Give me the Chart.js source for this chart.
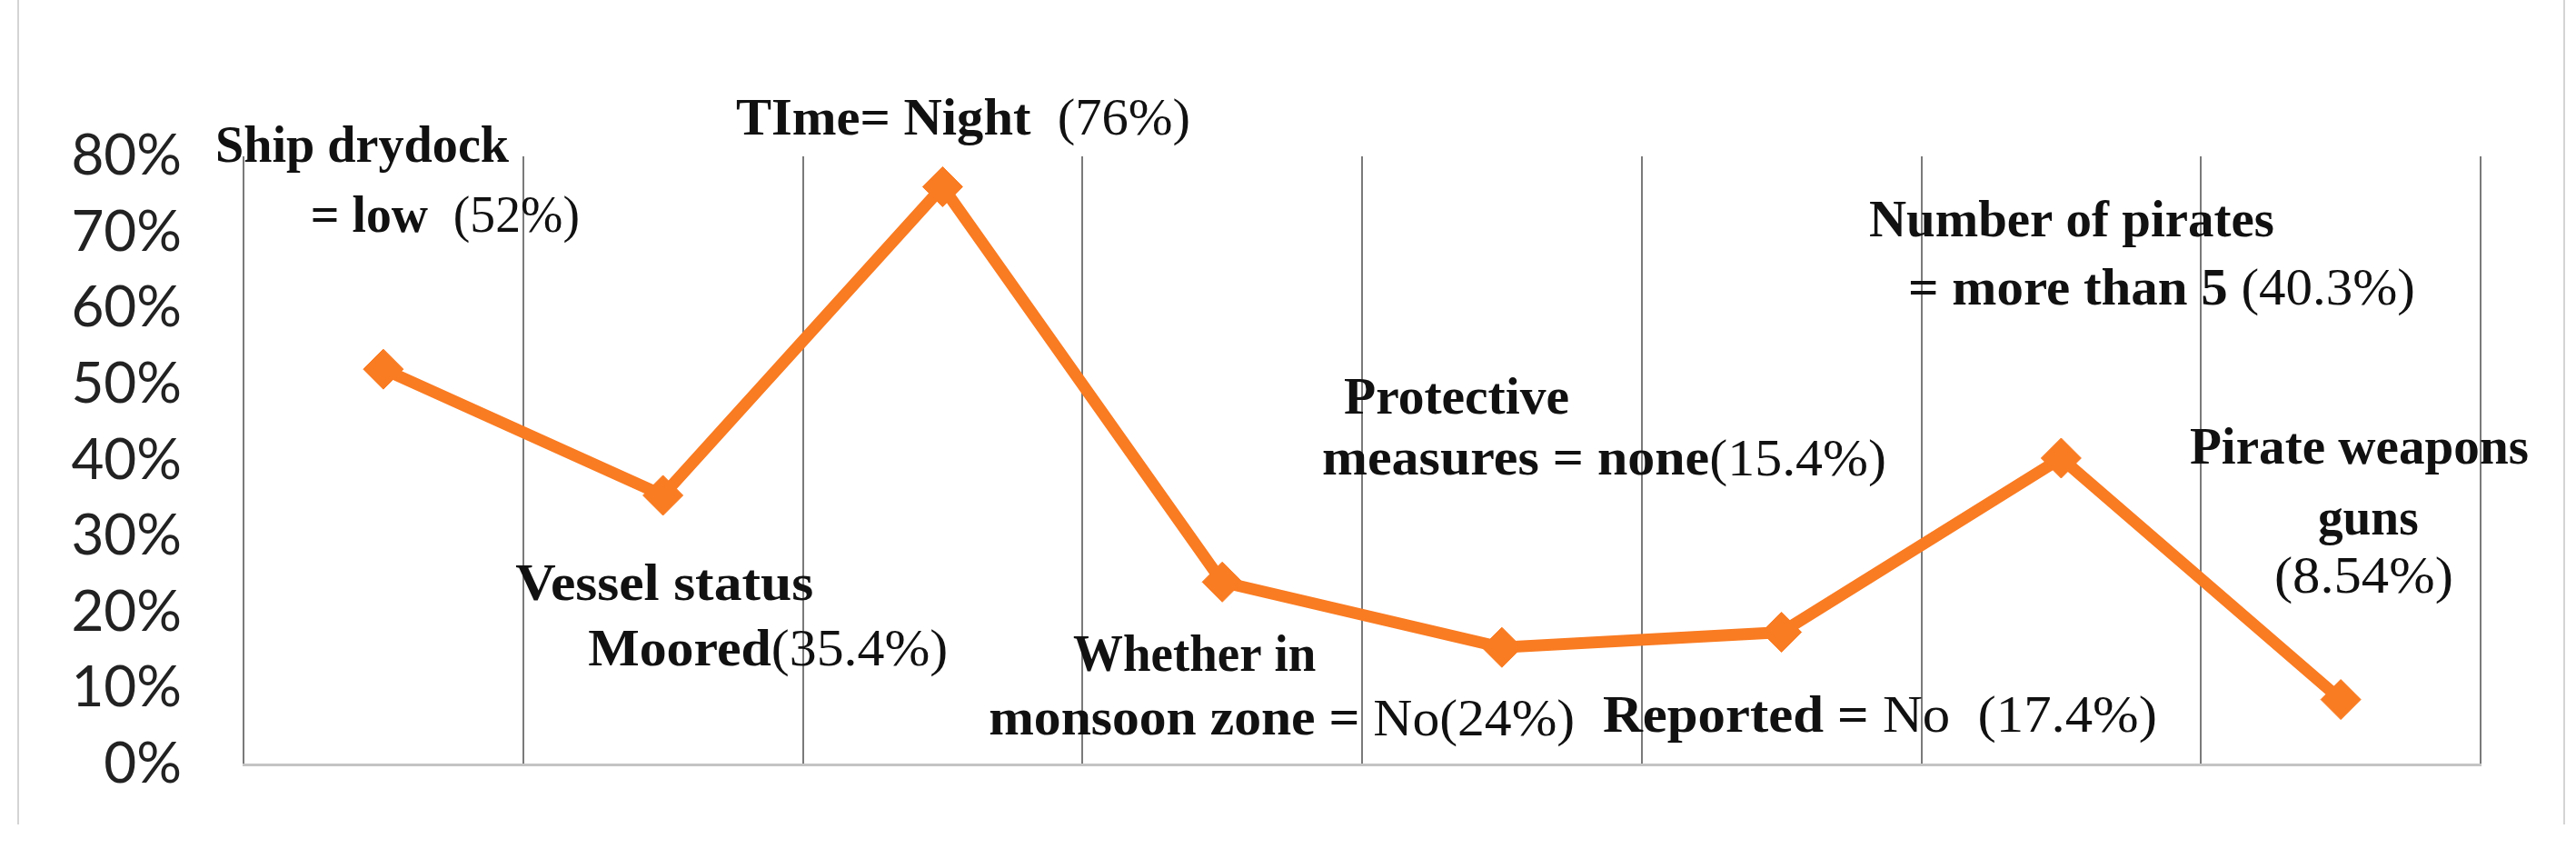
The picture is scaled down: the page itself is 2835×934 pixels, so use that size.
<!DOCTYPE html>
<html><head><meta charset="utf-8">
<script src="https://cdn.jsdelivr.net/npm/chart.js@4.4.0/dist/chart.umd.min.js"></script>
<style>html,body{margin:0;padding:0;background:#fff;}#wrap{width:2835px;height:934px;}</style>
</head><body><div id="wrap"><canvas id="c" width="2835" height="934"></canvas></div>
<script>
// ---- data ----
const categories = [
  'Ship drydock = low',
  'Vessel status Moored',
  'TIme= Night',
  'Whether in monsoon zone = No',
  'Protective measures = none',
  'Reported = No',
  'Number of pirates = more than 5',
  'Pirate weapons guns'
];
const values = [52, 35.4, 76, 24, 15.4, 17.4, 40.3, 8.54];
const yTickValues = [0, 10, 20, 30, 40, 50, 60, 70, 80];
const yTickSuffix = '%';

// annotation text runs: [text, bold]
const annoText = [
  ['Ship drydock', true],
  ['= low', true], ['  (52%)', false],
  ['Vessel status', true],
  ['Moored', true], ['(35.4%)', false],
  ['TIme= Night', true], ['  (76%)', false],
  ['Whether in', true],
  ['monsoon zone = ', true], ['No(24%)', false],
  ['Protective', true],
  ['measures = none', true], ['(15.4%)', false],
  ['Reported = ', true], ['No  (17.4%)', false],
  ['Number of pirates', true],
  ['= more than 5', true], [' (40.3%)', false],
  ['Pirate weapons', true],
  ['guns', true],
  ['(8.54%)', false]
];
// each line: [first run, run count, left edge (category units), middle (value units), width (category units, 0 = natural)]
const annoLines = [
  [0, 1, -0.601, 81.1, 1.050],
  [1, 2, -0.260, 71.9, 0.962],
  [3, 1, 0.472, 23.4, 1.066],
  [4, 2, 0.732, 14.8, 1.287],
  [6, 2, 1.261, 84.7, 1.625],
  [8, 1, 2.467, 14.1, 0.868],
  [9, 2, 2.165, 5.7, 2.096],
  [11, 1, 3.435, 48.0, 0.806],
  [12, 2, 3.357, 39.9, 2.018],
  [14, 2, 4.361, 6.1, 1.982],
  [16, 1, 5.313, 71.3, 1.449],
  [17, 2, 5.453, 62.3, 1.813],
  [19, 1, 6.460, 41.4, 1.212],
  [20, 1, 6.918, 32.0, 0.360],
  [21, 1, 6.762, 24.4, 0.640]
];

const ORANGE = '#F97B22';
const SERIF = '"Liberation Serif", "Times New Roman", serif';
const FONT_PX = 58;

const annotationPlugin = {
  id: 'annos',
  afterDatasetsDraw(chart) {
    const ctx = chart.ctx;
    const xs = chart.scales.x, ys = chart.scales.y;
    const unit = xs.getPixelForValue(1) - xs.getPixelForValue(0);
    ctx.save();
    ctx.fillStyle = '#111';
    ctx.textBaseline = 'middle';
    ctx.textAlign = 'left';
    annoLines.forEach(([start, n, cx, cy, w]) => {
      const x0 = xs.getPixelForValue(cx);
      const y = ys.getPixelForValue(cy);
      let natural = 0;
      for (let i = start; i < start + n; i++) {
        ctx.font = (annoText[i][1] ? 'bold ' : '') + FONT_PX + 'px ' + SERIF;
        natural += ctx.measureText(annoText[i][0]).width;
      }
      const sx = w > 0 ? (w * unit) / natural : 1;
      ctx.save();
      ctx.translate(x0, y);
      ctx.scale(sx, 1);
      let x = 0;
      for (let i = start; i < start + n; i++) {
        const [t, b] = annoText[i];
        ctx.font = (b ? 'bold ' : '') + FONT_PX + 'px ' + SERIF;
        ctx.fillText(t, x, 0);
        x += ctx.measureText(t).width;
      }
      ctx.restore();
    });
    ctx.restore();
  }
};

const framePlugin = {
  id: 'frame',
  beforeDraw(chart) {
    const ctx = chart.ctx;
    ctx.save();
    ctx.fillStyle = '#fff';
    ctx.fillRect(0, 0, chart.width, chart.height);
    ctx.strokeStyle = '#d4d4d4';
    ctx.lineWidth = 2;
    ctx.beginPath();
    ctx.moveTo(20, 0); ctx.lineTo(20, 907);
    ctx.moveTo(2822, 0); ctx.lineTo(2822, 907);
    ctx.stroke();
    ctx.restore();
  }
};

new Chart(document.getElementById('c'), {
  type: 'line',
  data: {
    labels: categories,
    datasets: [{
      data: values,
      borderColor: ORANGE,
      backgroundColor: ORANGE,
      borderWidth: 13,
      pointStyle: 'rectRot',
      pointRadius: 22,
      pointBorderWidth: 1,
      pointBackgroundColor: ORANGE,
      pointBorderColor: ORANGE,
      tension: 0,
      fill: false
    }]
  },
  options: {
    responsive: false,
    animation: false,
    devicePixelRatio: 1,
    layout: { padding: { left: 0, right: 105, top: 172, bottom: 93 } },
    plugins: { legend: { display: false }, tooltip: { enabled: false } },
    scales: {
      x: {
        type: 'category',
        offset: true,
        ticks: { display: false },
        grid: { offset: true, color: '#7a7a7a', lineWidth: 2, drawTicks: false },
        border: { color: '#c4c4c4', width: 3 },
        afterFit(s) { s.height = 0; }
      },
      y: {
        min: yTickValues[0],
        max: yTickValues[yTickValues.length - 1],
        afterBuildTicks(s) { s.ticks = yTickValues.map(v => ({ value: v })); },
        ticks: {
          padding: 68,
          color: '#222',
          font: { family: 'Lato', size: 62 },
          callback: v => v + yTickSuffix
        },
        grid: { display: false, drawTicks: false },
        border: { display: false },
        afterFit(s) { s.width = 268; s.paddingTop = 0; s.paddingBottom = 0; }
      }
    }
  },
  plugins: [framePlugin, annotationPlugin]
});
</script></body></html>
